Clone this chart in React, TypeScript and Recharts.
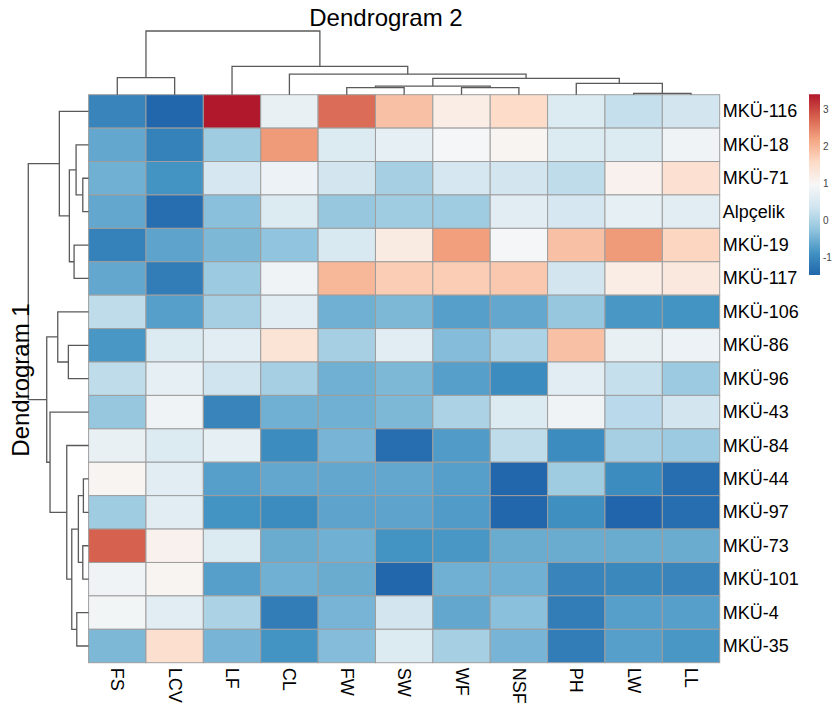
import React from 'react';
import { ScatterChart, Scatter, XAxis, YAxis, ReferenceArea } from 'recharts';

const columnLabels = ['FS', 'LCV', 'LF', 'CL', 'FW', 'SW', 'WF', 'NSF', 'PH', 'LW', 'LL'];
const rowLabels = [
  'MKÜ-116', 'MKÜ-18', 'MKÜ-71', 'Alpçelik', 'MKÜ-19', 'MKÜ-117', 'MKÜ-106', 'MKÜ-86', 'MKÜ-96',
  'MKÜ-43', 'MKÜ-84', 'MKÜ-44', 'MKÜ-97', 'MKÜ-73', 'MKÜ-101', 'MKÜ-4', 'MKÜ-35',
];

// scaled trait values, one list per genotype (column order as columnLabels)
const mku116 = [-1.05, -1.45, 3.42, 0.75, 2.7, 1.9, 1.2, 1.55, 0.55, 0.25, 0.4];
const mku18 = [-0.6, -1.1, -0.1, 2.3, 0.55, 0.7, 0.95, 1.05, 0.55, 0.55, 0.85];
const mku71 = [-0.5, -0.85, 0.45, 0.8, 0.4, -0.05, 0.45, 0.4, 0.2, 1.1, 1.45];
const alpcelik = [-0.6, -1.35, -0.3, 0.55, -0.2, -0.1, -0.1, 0.65, 0.45, 0.7, 0.65];
const mku19 = [-1.1, -0.65, -0.4, -0.25, 0.5, 1.25, 2.25, 0.95, 1.9, 2.3, 1.65];
const mku117 = [-0.6, -1.15, -0.15, 0.85, 2.0, 1.75, 1.75, 1.8, 0.4, 1.2, 1.3];
const mku106 = [0.2, -0.7, -0.05, 0.65, -0.5, -0.4, -0.7, -0.6, -0.2, -0.8, -0.85];
const mku86 = [-0.8, 0.55, 0.65, 1.4, -0.05, 0.65, -0.35, 0.0, 1.9, 0.75, 0.8];
const mku96 = [0.2, 0.7, 0.35, -0.05, -0.5, -0.4, -0.7, -0.95, 0.65, 0.25, -0.15];
const mku43 = [-0.2, 0.85, -1.05, -0.5, -0.5, -0.4, 0.0, 0.55, 0.85, 0.15, 0.4];
const mku84 = [0.75, 0.55, 0.7, -0.95, -0.45, -1.35, -0.75, 0.2, -0.95, -0.05, -0.15];
const mku44 = [1.05, 0.65, -0.7, -0.6, -0.6, -0.6, -0.7, -1.45, -0.1, -0.95, -1.35];
const mku97 = [-0.1, 0.65, -0.85, -0.95, -0.65, -0.65, -0.75, -1.45, -0.9, -1.46, -1.35];
const mku73 = [2.8, 1.1, 0.55, -0.55, -0.5, -0.85, -0.8, -0.55, -0.55, -0.55, -0.55];
const mku101 = [0.85, 1.05, -0.7, -0.5, -0.55, -1.45, -0.5, -0.5, -1.05, -1.0, -1.05];
const mku4 = [0.9, 0.65, 0.0, -1.15, -0.45, 0.4, -0.6, -0.3, -1.15, -0.7, -0.7];
const mku35 = [-0.4, 1.5, -0.45, -0.85, -0.35, 0.55, -0.05, -0.45, -1.15, -0.7, -0.8];

const rowValues = [
  mku116, mku18, mku71, alpcelik, mku19, mku117, mku106, mku86, mku96,
  mku43, mku84, mku44, mku97, mku73, mku101, mku4, mku35,
];

// hclust style merges: negative = leaf (display order, 1-based), positive = earlier merge step
const rowMerges = [
  [-3, -4], [-12, -13], [-14, -15], [2, 3], [-16, -17], [4, 5], [-11, 6], [-10, 7],
  [-8, -9], [-7, 9], [10, 8], [-2, 1], [-5, -6], [12, 13], [-1, 14], [15, 11],
];
const rowHeights = [5.8, 5.2, 5.8, 10.2, 11.8, 16.8, 21.8, 38.5, 20.2, 30.8, 41.8, 12.5, 14.5, 19.2, 29.2, 60.2];

const colMerges = [
  [-10, -11], [-5, -6], [-7, -8], [2, 3], [-9, 1], [4, 5], [-1, -2], [-4, 6], [-3, 8], [7, 9],
];
const colHeights = [1.4, 7, 7, 8.5, 11.4, 16.4, 17, 20.5, 28.4, 63.7];

const legendRange = [-1.46, 3.42];
const legendTicks = [-1, 0, 1, 2, 3];

const rdbu = ['#2166AC', '#4393C3', '#92C5DE', '#D1E5F0', '#F7F7F7', '#FDDBC7', '#F4A582', '#D6604D', '#B2182B'];

const W = 837;
const H = 705;
const GRID = { left: 88.6, right: 719.7, top: 94.7, bottom: 662.7 };
const FONT = '"Liberation Sans", Arial, Helvetica, sans-serif';
const LINE = '#5a5a5a';

const hex = (c: string) => [1, 3, 5].map((i) => parseInt(c.slice(i, i + 2), 16));

function colorFor(v: number) {
  const t = Math.min(1, Math.max(0, (v - legendRange[0]) / (legendRange[1] - legendRange[0]))) * (rdbu.length - 1);
  const i = Math.min(rdbu.length - 2, Math.floor(t));
  const f = t - i;
  const a = hex(rdbu[i]);
  const b = hex(rdbu[i + 1]);
  const c = a.map((x, k) => Math.round(x + (b[k] - x) * f));
  return `rgb(${c[0]},${c[1]},${c[2]})`;
}

function buildLinks(merges: number[][], heights: number[]) {
  const pos: number[] = [];
  const at = (k: number) => (k < 0 ? { p: -k - 0.5, h: 0 } : { p: pos[k - 1], h: heights[k - 1] });
  return merges.map(([a, b], i) => {
    const A = at(a);
    const B = at(b);
    const h = heights[i];
    pos[i] = (A.p + B.p) / 2;
    return [
      { p: A.p, h: A.h },
      { p: A.p, h },
      { p: B.p, h },
      { p: B.p, h: B.h },
    ];
  });
}

const cells = rowValues.flatMap((vals, r) => vals.map((v, c) => ({ x: c + 0.5, y: r + 0.5, v })));
const colTicks = columnLabels.map((_, i) => i + 0.5);
const rowTicks = rowLabels.map((_, i) => i + 0.5);
const topLinks = buildLinks(colMerges, colHeights).map((pts) => pts.map((q) => ({ x: q.p, y: q.h })));
const leftLinks = buildLinks(rowMerges, rowHeights).map((pts) => pts.map((q) => ({ x: q.h, y: q.p })));

const cellW = (GRID.right - GRID.left) / columnLabels.length;
const cellH = (GRID.bottom - GRID.top) / rowLabels.length;

const HeatCell = (props: any) => {
  const { cx, cy, payload } = props;
  return (
    <rect
      x={cx - cellW / 2}
      y={cy - cellH / 2}
      width={cellW}
      height={cellH}
      fill={colorFor(payload.v)}
      stroke="#9e9e9e"
      strokeWidth={1}
    />
  );
};

const ColTick = (p: any) => (
  <text
    x={p.x}
    y={p.y}
    transform={`rotate(90, ${p.x}, ${p.y})`}
    textAnchor="start"
    dominantBaseline="central"
    fontSize={18}
    fontFamily={FONT}
    fill="#000"
  >
    {columnLabels[Math.floor(p.payload.value)]}
  </text>
);

const RowTick = (p: any) => (
  <text x={p.x} y={p.y} textAnchor="start" dominantBaseline="central" fontSize={18} fontFamily={FONT} fill="#000">
    {rowLabels[Math.floor(p.payload.value)]}
  </text>
);

const LegendTick = (p: any) => (
  <text x={p.x} y={p.y} textAnchor="start" dominantBaseline="central" fontSize={10} fontFamily={FONT} fill="#444">
    {p.payload.value}
  </text>
);

const noDot = () => <g />;

export default function App() {
  const abs = { position: 'absolute' as const, top: 0 };
  return (
    <div style={{ position: 'absolute', left: 0, top: 0, width: W, height: H, background: '#fff' }}>
      <div style={{ ...abs, left: 0 }}>
        <ScatterChart
          width={W}
          height={H}
          margin={{ top: GRID.top, left: GRID.left, right: W - GRID.right - 100, bottom: H - GRID.bottom - 40 }}
        >
          <XAxis
            type="number"
            dataKey="x"
            domain={[0, columnLabels.length]}
            ticks={colTicks}
            interval={0}
            height={40}
            tickLine={false}
            axisLine={false}
            tickSize={0}
            tickMargin={5}
            tick={ColTick}
          />
          <YAxis
            type="number"
            dataKey="y"
            domain={[0, rowLabels.length]}
            reversed
            orientation="right"
            width={100}
            ticks={rowTicks}
            interval={0}
            tickLine={false}
            axisLine={false}
            tickSize={0}
            tickMargin={3}
            tick={RowTick}
          />
          <Scatter data={cells} shape={HeatCell} isAnimationActive={false} />
        </ScatterChart>
      </div>

      <div style={{ ...abs, left: 0 }}>
        <ScatterChart
          width={W}
          height={100}
          margin={{ top: 31, left: GRID.left, right: W - GRID.right, bottom: 100 - GRID.top }}
        >
          <XAxis type="number" dataKey="x" domain={[0, columnLabels.length]} hide />
          <YAxis type="number" dataKey="y" domain={[0, colHeights[colHeights.length - 1]]} hide />
          {topLinks.map((pts, i) => (
            <Scatter
              key={i}
              data={pts}
              line={{ stroke: LINE, strokeWidth: 1.3 }}
              lineType="joint"
              shape={noDot}
              isAnimationActive={false}
            />
          ))}
        </ScatterChart>
      </div>

      <div style={{ ...abs, left: 0 }}>
        <ScatterChart
          width={100}
          height={H}
          margin={{ top: GRID.top, left: 28.3, right: 100 - GRID.left, bottom: H - GRID.bottom }}
        >
          <XAxis type="number" dataKey="x" domain={[0, rowHeights[rowHeights.length - 1]]} reversed hide />
          <YAxis type="number" dataKey="y" domain={[0, rowLabels.length]} reversed hide />
          {leftLinks.map((pts, i) => (
            <Scatter
              key={i}
              data={pts}
              line={{ stroke: LINE, strokeWidth: 1.3 }}
              lineType="joint"
              shape={noDot}
              isAnimationActive={false}
            />
          ))}
        </ScatterChart>
      </div>

      <div style={{ ...abs, left: 800 }}>
        <ScatterChart width={37} height={H} margin={{ top: 94.3, left: 9, right: 1, bottom: H - 275 }}>
          <defs>
            <linearGradient id="legendGrad" x1="0" y1="1" x2="0" y2="0">
              {rdbu.map((c, i) => (
                <stop key={i} offset={`${(i / (rdbu.length - 1)) * 100}%`} stopColor={c} />
              ))}
            </linearGradient>
          </defs>
          <XAxis type="number" dataKey="x" domain={[0, 1]} hide />
          <YAxis
            type="number"
            dataKey="y"
            domain={legendRange}
            orientation="right"
            width={16}
            ticks={legendTicks}
            interval={0}
            tickLine={false}
            axisLine={false}
            tickSize={0}
            tickMargin={3}
            tick={LegendTick}
          />
          <ReferenceArea
            x1={0}
            x2={1}
            y1={legendRange[0]}
            y2={legendRange[1]}
            fill="url(#legendGrad)"
            fillOpacity={1}
            stroke="none"
            ifOverflow="visible"
          />
          <Scatter
            data={legendRange.map((y) => ({ x: 0.5, y }))}
            shape={noDot}
            isAnimationActive={false}
          />
        </ScatterChart>
      </div>

      <svg width={W} height={H} style={{ ...abs, left: 0, pointerEvents: 'none' }}>
        <text x={386} y={26} textAnchor="middle" fontSize={24} fontFamily={FONT} fill="#000">
          Dendrogram 2
        </text>
        <text
          x={29}
          y={380}
          transform="rotate(-90, 29, 380)"
          textAnchor="middle"
          fontSize={24}
          fontFamily={FONT}
          fill="#000"
        >
          Dendrogram 1
        </text>
      </svg>
    </div>
  );
}
